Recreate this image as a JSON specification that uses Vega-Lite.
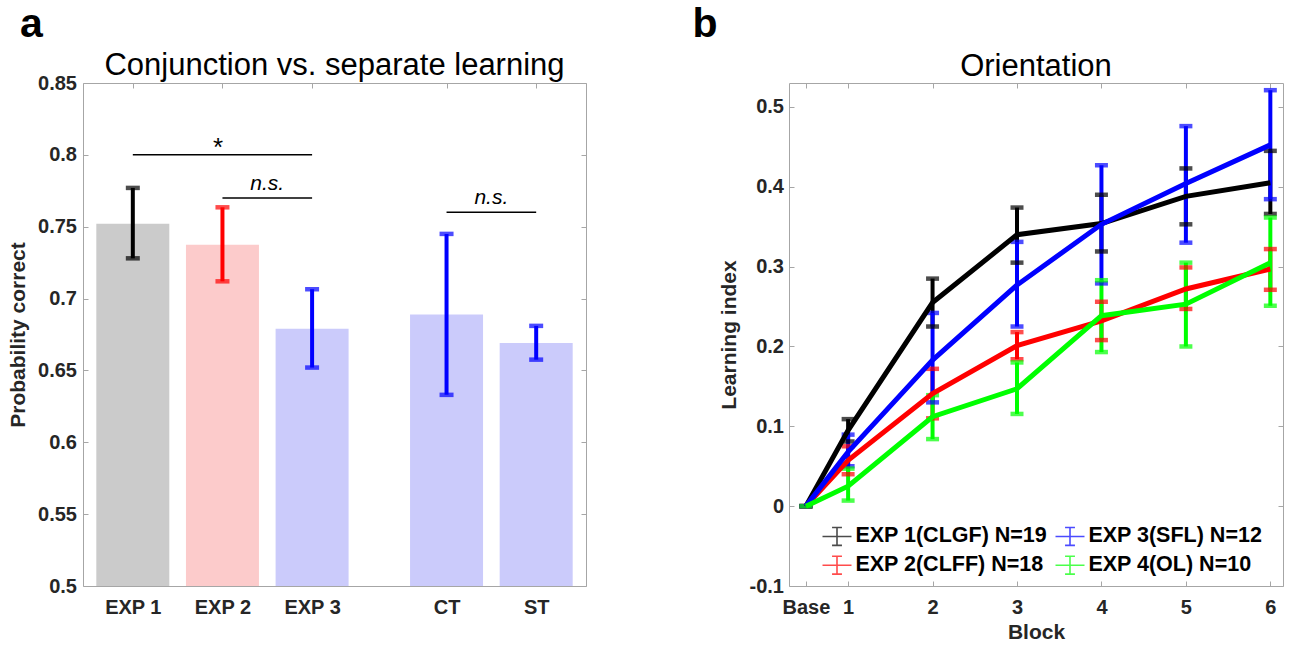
{
  "$schema": "https://vega.github.io/schema/vega-lite/v6.json",
  "padding": {"left": 7, "top": 3, "right": 0, "bottom": 0},
  "background": "white",
  "config": {
    "font": "Liberation Sans",
    "view": {"stroke": "#a6a6a6", "strokeWidth": 1},
    "axis": {
      "grid": false, "domain": false, "tickColor": "#a6a6a6", "tickSize": -5, "tickWidth": 1,
      "labelFont": "Liberation Sans", "labelFontSize": 20, "labelFontWeight": "bold", "labelColor": "#262626",
      "titleFont": "Liberation Sans", "titleFontSize": 21, "titleFontWeight": "bold", "titleColor": "#262626"
    },
    "title": {"font": "Liberation Sans", "fontSize": 31, "fontWeight": "normal", "color": "#000000"}
  },
  "spacing": 105,
  "hconcat": [
    {
      "title": {"text": "a", "fontSize": 41, "fontWeight": "bold", "anchor": "start", "dx": 13, "offset": 4, "color": "#000000"},
      "vconcat": [
        {
          "width": 503, "height": 503,
          "title": {"text": "Conjunction vs. separate learning", "offset": -9, "frame": "group"},
          "data": {"values": [
            {"cond": "EXP 1", "pos": 1, "mean": 0.752, "lo": 0.728, "hi": 0.777},
            {"cond": "EXP 2", "pos": 2, "mean": 0.7375, "lo": 0.712, "hi": 0.7635},
            {"cond": "EXP 3", "pos": 3, "mean": 0.679, "lo": 0.652, "hi": 0.7065},
            {"cond": "CT", "pos": 4.5, "mean": 0.689, "lo": 0.633, "hi": 0.745},
            {"cond": "ST", "pos": 5.5, "mean": 0.669, "lo": 0.6575, "hi": 0.681}
          ]},
          "layer": [
            {
              "mark": {"type": "bar", "width": 73},
              "encoding": {
                "x": {"field": "pos", "type": "quantitative", "scale": {"domain": [0.5, 6]},
                      "axis": {"values": [1, 2, 3, 4.5, 5.5], "title": null, "labelPadding": 16,
                               "labelExpr": "datum.value == 1 ? 'EXP 1' : datum.value == 2 ? 'EXP 2' : datum.value == 3 ? 'EXP 3' : datum.value == 4.5 ? 'CT' : 'ST'"}},
                "y": {"field": "mean", "type": "quantitative", "scale": {"domain": [0.5, 0.85]},
                      "axis": {"values": [0.5, 0.55, 0.6, 0.65, 0.7, 0.75, 0.8, 0.85], "format": ".2~f", "title": "Probability correct", "labelPadding": 11.5, "titlePadding": 9}},
                "y2": {"datum": 0.5},
                "color": {"field": "cond", "type": "nominal", "legend": null,
                          "scale": {"domain": ["EXP 1", "EXP 2", "EXP 3", "CT", "ST"], "range": ["#cbcbcb", "#fccbcb", "#cbcbfb", "#cbcbfb", "#cbcbfb"]}}
              }
            },
            {
              "mark": {"type": "rule", "strokeWidth": 4},
              "encoding": {
                "x": {"field": "pos", "type": "quantitative", "scale": {"domain": [0.5, 6]}, "axis": null},
                "y": {"field": "lo", "type": "quantitative", "scale": {"domain": [0.5, 0.85]}, "axis": null},
                "y2": {"field": "hi"},
                "color": {"field": "cond", "type": "nominal", "legend": null,
                          "scale": {"domain": ["EXP 1", "EXP 2", "EXP 3", "CT", "ST"], "range": ["#000000", "#ff0000", "#0000ff", "#0000ff", "#0000ff"]}}
              }
            },
            {
              "mark": {"type": "tick", "orient": "horizontal", "size": 14, "thickness": 4.5},
              "encoding": {
                "x": {"field": "pos", "type": "quantitative", "scale": {"domain": [0.5, 6]}, "axis": null},
                "y": {"field": "lo", "type": "quantitative", "scale": {"domain": [0.5, 0.85]}, "axis": null},
                "color": {"field": "cond", "type": "nominal", "legend": null,
                          "scale": {"domain": ["EXP 1", "EXP 2", "EXP 3", "CT", "ST"], "range": ["#000000", "#ff0000", "#0000ff", "#0000ff", "#0000ff"]}}
              }
            },
            {
              "mark": {"type": "tick", "orient": "horizontal", "size": 14, "thickness": 4.5},
              "encoding": {
                "x": {"field": "pos", "type": "quantitative", "scale": {"domain": [0.5, 6]}, "axis": null},
                "y": {"field": "hi", "type": "quantitative", "scale": {"domain": [0.5, 0.85]}, "axis": null},
                "color": {"field": "cond", "type": "nominal", "legend": null,
                          "scale": {"domain": ["EXP 1", "EXP 2", "EXP 3", "CT", "ST"], "range": ["#000000", "#ff0000", "#0000ff", "#0000ff", "#0000ff"]}}
              }
            },
            {
              "data": {"values": [
                {"x1": 1, "x2": 3, "y": 0.8},
                {"x1": 2, "x2": 3, "y": 0.77},
                {"x1": 4.5, "x2": 5.5, "y": 0.76}
              ]},
              "mark": {"type": "rule", "strokeWidth": 1.5, "color": "#000000"},
              "encoding": {
                "x": {"field": "x1", "type": "quantitative", "scale": {"domain": [0.5, 6]}, "axis": null},
                "x2": {"field": "x2"},
                "y": {"field": "y", "type": "quantitative", "scale": {"domain": [0.5, 0.85]}, "axis": null}
              }
            },
            {
              "data": {"values": [{"x": 1.95, "y": 0.8, "label": "*"}]},
              "mark": {"type": "text", "fontSize": 26, "baseline": "alphabetic", "dy": 1, "color": "#000000"},
              "encoding": {
                "x": {"field": "x", "type": "quantitative", "scale": {"domain": [0.5, 6]}, "axis": null},
                "y": {"field": "y", "type": "quantitative", "scale": {"domain": [0.5, 0.85]}, "axis": null},
                "text": {"field": "label"}
              }
            },
            {
              "data": {"values": [{"x": 2.5, "y": 0.77, "label": "n.s."}, {"x": 5, "y": 0.76, "label": "n.s."}]},
              "mark": {"type": "text", "fontSize": 21, "fontStyle": "italic", "baseline": "alphabetic", "dy": -8, "color": "#000000"},
              "encoding": {
                "x": {"field": "x", "type": "quantitative", "scale": {"domain": [0.5, 6]}, "axis": null},
                "y": {"field": "y", "type": "quantitative", "scale": {"domain": [0.5, 0.85]}, "axis": null},
                "text": {"field": "label"}
              }
            },
            {
              "mark": {"type": "point", "opacity": 0},
              "encoding": {
                "x": {"field": "pos", "type": "quantitative", "scale": {"domain": [0.5, 6]}, "axis": {"orient": "top", "values": [1, 2, 3, 4.5, 5.5], "labels": false, "title": null}},
                "y": {"field": "mean", "type": "quantitative", "scale": {"domain": [0.5, 0.85]}, "axis": {"orient": "right", "values": [0.5, 0.55, 0.6, 0.65, 0.7, 0.75, 0.8, 0.85], "labels": false, "title": null}}
              }
            }
          ],
          "resolve": {"scale": {"color": "independent"}, "axis": {"x": "independent", "y": "independent"}}
        }
      ]
    },
    {
      "title": {"text": "b", "fontSize": 41, "fontWeight": "bold", "anchor": "start", "dx": -25, "offset": 4, "color": "#000000"},
      "vconcat": [
        {
          "width": 494, "height": 503,
          "title": {"text": "Orientation", "offset": 0, "frame": "group"},
          "data": {"values": [
            {"series": "EXP 1(CLGF) N=19", "block": 0.5, "mean": 0, "lo": 0, "hi": 0},
            {"series": "EXP 1(CLGF) N=19", "block": 1, "mean": 0.095, "lo": 0.081, "hi": 0.109},
            {"series": "EXP 1(CLGF) N=19", "block": 2, "mean": 0.255, "lo": 0.225, "hi": 0.285},
            {"series": "EXP 1(CLGF) N=19", "block": 3, "mean": 0.34, "lo": 0.305, "hi": 0.374},
            {"series": "EXP 1(CLGF) N=19", "block": 4, "mean": 0.354, "lo": 0.319, "hi": 0.39},
            {"series": "EXP 1(CLGF) N=19", "block": 5, "mean": 0.388, "lo": 0.353, "hi": 0.423},
            {"series": "EXP 1(CLGF) N=19", "block": 6, "mean": 0.405, "lo": 0.366, "hi": 0.445},
            {"series": "EXP 2(CLFF) N=18", "block": 0.5, "mean": 0, "lo": 0, "hi": 0},
            {"series": "EXP 2(CLFF) N=18", "block": 1, "mean": 0.0575, "lo": 0.04, "hi": 0.075},
            {"series": "EXP 2(CLFF) N=18", "block": 2, "mean": 0.141, "lo": 0.11, "hi": 0.172},
            {"series": "EXP 2(CLFF) N=18", "block": 3, "mean": 0.201, "lo": 0.184, "hi": 0.218},
            {"series": "EXP 2(CLFF) N=18", "block": 4, "mean": 0.232, "lo": 0.208, "hi": 0.256},
            {"series": "EXP 2(CLFF) N=18", "block": 5, "mean": 0.272, "lo": 0.247, "hi": 0.299},
            {"series": "EXP 2(CLFF) N=18", "block": 6, "mean": 0.297, "lo": 0.271, "hi": 0.322},
            {"series": "EXP 3(SFL) N=12", "block": 0.5, "mean": 0, "lo": 0, "hi": 0},
            {"series": "EXP 3(SFL) N=12", "block": 1, "mean": 0.068, "lo": 0.05, "hi": 0.0896},
            {"series": "EXP 3(SFL) N=12", "block": 2, "mean": 0.183, "lo": 0.13, "hi": 0.242},
            {"series": "EXP 3(SFL) N=12", "block": 3, "mean": 0.277, "lo": 0.225, "hi": 0.331},
            {"series": "EXP 3(SFL) N=12", "block": 4, "mean": 0.353, "lo": 0.279, "hi": 0.427},
            {"series": "EXP 3(SFL) N=12", "block": 5, "mean": 0.404, "lo": 0.33, "hi": 0.476},
            {"series": "EXP 3(SFL) N=12", "block": 6, "mean": 0.4525, "lo": 0.3845, "hi": 0.521},
            {"series": "EXP 4(OL) N=10", "block": 0.5, "mean": 0, "lo": 0, "hi": 0},
            {"series": "EXP 4(OL) N=10", "block": 1, "mean": 0.025, "lo": 0.007, "hi": 0.047},
            {"series": "EXP 4(OL) N=10", "block": 2, "mean": 0.112, "lo": 0.084, "hi": 0.139},
            {"series": "EXP 4(OL) N=10", "block": 3, "mean": 0.147, "lo": 0.1155, "hi": 0.18},
            {"series": "EXP 4(OL) N=10", "block": 4, "mean": 0.2386, "lo": 0.193, "hi": 0.283},
            {"series": "EXP 4(OL) N=10", "block": 5, "mean": 0.253, "lo": 0.2, "hi": 0.305},
            {"series": "EXP 4(OL) N=10", "block": 6, "mean": 0.305, "lo": 0.251, "hi": 0.3615}
          ]},
          "layer": [
            {
              "mark": {"type": "rule", "strokeWidth": 4},
              "encoding": {
                "x": {"field": "block", "type": "quantitative", "scale": {"domain": [0.3, 6.15]}, "axis": null},
                "y": {"field": "lo", "type": "quantitative", "scale": {"domain": [-0.1, 0.53]}, "axis": null},
                "y2": {"field": "hi"},
                "color": {"field": "series", "type": "nominal",
                          "scale": {"domain": ["EXP 1(CLGF) N=19", "EXP 3(SFL) N=12", "EXP 2(CLFF) N=18", "EXP 4(OL) N=10"], "range": ["#000000", "#0000ff", "#ff0000", "#00ff00"]}}
              }
            },
            {
              "mark": {"type": "tick", "orient": "horizontal", "size": 13, "thickness": 4.5},
              "encoding": {
                "x": {"field": "block", "type": "quantitative", "scale": {"domain": [0.3, 6.15]}, "axis": null},
                "y": {"field": "lo", "type": "quantitative", "scale": {"domain": [-0.1, 0.53]}, "axis": null},
                "color": {"field": "series", "type": "nominal"}
              }
            },
            {
              "mark": {"type": "tick", "orient": "horizontal", "size": 13, "thickness": 4.5},
              "encoding": {
                "x": {"field": "block", "type": "quantitative", "scale": {"domain": [0.3, 6.15]}, "axis": null},
                "y": {"field": "hi", "type": "quantitative", "scale": {"domain": [-0.1, 0.53]}, "axis": null},
                "color": {"field": "series", "type": "nominal"}
              }
            },
            {
              "mark": {"type": "line", "strokeWidth": 5},
              "encoding": {
                "x": {"field": "block", "type": "quantitative", "scale": {"domain": [0.3, 6.15]},
                      "axis": {"values": [0.5, 1, 2, 3, 4, 5, 6], "title": "Block", "labelPadding": 16, "titlePadding": 4,
                               "labelExpr": "datum.value == 0.5 ? 'Base' : datum.label"}},
                "y": {"field": "mean", "type": "quantitative", "scale": {"domain": [-0.1, 0.53]},
                      "axis": {"values": [-0.1, 0, 0.1, 0.2, 0.3, 0.4, 0.5], "title": "Learning index", "labelPadding": 10.5, "titlePadding": 10,
                               "labelExpr": "datum.value == 0 ? '0' : replace(format(datum.value, '.1f'), '\u2212', '-')"}},
                "color": {"field": "series", "type": "nominal",
                          "legend": {"orient": "none", "legendX": 741, "legendY": 440, "direction": "horizontal", "columns": 2, "title": null,
                                     "labelFontSize": 21.5, "labelFontWeight": "bold", "labelColor": "#000000", "labelFont": "Liberation Sans", "labelLimit": 0,
                                     "symbolType": "M-1.2,0H1.2M0,-0.74V0.74M-0.41,-0.74H0.41M-0.41,0.74H0.41", "symbolSize": 584,
                                     "symbolStrokeWidth": 1.6, "symbolFillColor": "transparent", "labelOffset": 5.4, "columnPadding": 4, "rowPadding": 3.2, "padding": 0}}
              }
            },
            {
              "mark": {"type": "point", "opacity": 0},
              "encoding": {
                "x": {"field": "block", "type": "quantitative", "scale": {"domain": [0.3, 6.15]}, "axis": {"orient": "top", "values": [0.5, 1, 2, 3, 4, 5, 6], "labels": false, "title": null}},
                "y": {"field": "mean", "type": "quantitative", "scale": {"domain": [-0.1, 0.53]}, "axis": {"orient": "right", "values": [-0.1, 0, 0.1, 0.2, 0.3, 0.4, 0.5], "labels": false, "title": null}}
              }
            }
          ],
          "resolve": {"axis": {"x": "independent", "y": "independent"}}
        }
      ]
    }
  ]
}
